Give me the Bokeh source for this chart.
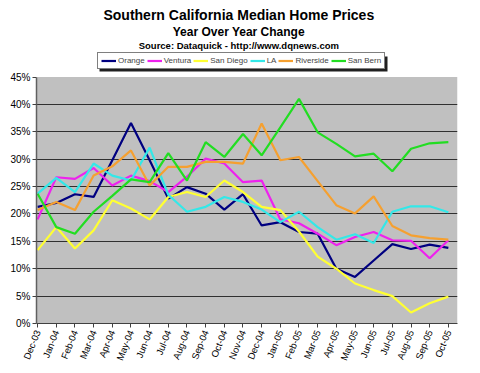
import math
from bokeh.plotting import figure
from bokeh.models import (FixedTicker, PrintfTickFormatter, Label, Legend, LegendItem,
                          BoxAnnotation, Range1d)
from bokeh.embed import file_html
from bokeh.resources import INLINE

months = ["Dec-03", "Jan-04", "Feb-04", "Mar-04", "Apr-04", "May-04", "Jun-04", "Jul-04",
          "Aug-04", "Sep-04", "Oct-04", "Nov-04", "Dec-04", "Jan-05", "Feb-05", "Mar-05",
          "Apr-05", "May-05", "Jun-05", "Jul-05", "Aug-05", "Sep-05", "Oct-05"]

orange = [21.3, 22.0, 23.6, 23.1, 29.8, 36.6, 29.8, 22.8, 24.9, 23.7, 20.8, 23.6,
          17.9, 18.5, 16.7, 16.4, 10.0, 8.5, 11.5, 14.5, 13.6, 14.4, 13.8]
ventura = [19.0, 26.7, 26.4, 28.4, 25.2, 27.0, 26.0, 24.0, 26.8, 30.1, 29.2, 25.8,
           26.1, 19.0, 18.3, 16.4, 14.3, 15.8, 16.7, 15.2, 15.1, 11.9, 15.2]
san_diego = [13.4, 17.6, 13.7, 17.0, 22.5, 21.0, 19.0, 23.1, 24.0, 23.1, 26.1, 24.0,
             21.3, 20.7, 16.8, 12.2, 10.0, 7.3, 6.1, 5.0, 2.0, 3.7, 4.9]
la = [23.7, 26.6, 24.0, 29.2, 27.0, 26.1, 32.1, 23.5, 20.4, 21.3, 23.1, 22.2,
      20.8, 18.5, 20.4, 17.6, 15.3, 16.3, 14.7, 20.4, 21.4, 21.4, 20.3]
riverside = [20.7, 22.2, 20.7, 27.0, 28.7, 31.6, 25.2, 28.6, 28.6, 29.5, 29.5, 29.2,
             36.5, 29.8, 30.4, 26.0, 21.6, 20.1, 23.2, 17.8, 16.1, 15.6, 15.3]
san_bern = [23.7, 17.6, 16.4, 20.4, 23.3, 26.3, 25.8, 31.1, 26.1, 33.1, 30.4, 34.6,
            30.7, 35.8, 41.0, 34.9, 32.8, 30.5, 31.0, 27.8, 31.9, 32.9, 33.1]

series_names = ["Orange", "Ventura", "San Diego", "LA", "Riverside", "San Bern"]
series_values = [orange, ventura, san_diego, la, riverside, san_bern]
series_colors = ["#000080", "#EE22EE", "#FFFF33", "#33E8E8", "#F5A030", "#22DD22"]

y_ticks = [0, 5, 10, 15, 20, 25, 30, 35, 40, 45]
Y_MAX = 45

FONT = "Liberation Sans"

W, H = 480, 373
BL, BR, BB = 36, 23, 50
frame_h = H - BB
plot_top_px = 76.5          # where the 45% line sits, from the top of the canvas
y_end = Y_MAX * frame_h / (frame_h - plot_top_px)

p = figure(width=W, height=H, output_backend="svg", toolbar_location=None,
           x_range=Range1d(-0.06, 22.49), y_range=Range1d(0, y_end),
           min_border_left=BL, min_border_right=BR, min_border_top=0, min_border_bottom=BB,
           background_fill_color="white", border_fill_color="white")
p.outline_line_color = None

# gray plot area (0% .. 45%)
p.add_layout(BoxAnnotation(bottom=0, top=Y_MAX, fill_color="#C0C0C0", fill_alpha=1.0,
                           line_color=None, level="image"))

xs = list(range(len(months)))
renderers = []
for name, vals, col in zip(series_names, series_values, series_colors):
    r = p.line(xs, vals, line_color=col, line_width=2.2)
    renderers.append((name, r))

# axes
p.xaxis.ticker = FixedTicker(ticks=xs)
p.xaxis.major_label_overrides = {i: m for i, m in enumerate(months)}
p.xaxis.major_label_orientation = 1.19
p.xaxis.major_label_text_font = FONT
p.xaxis.major_label_text_font_size = "9.5px"
p.xaxis.major_label_text_color = "black"
p.xaxis.major_tick_out = 4
p.xaxis.major_tick_in = 0
p.xaxis.minor_tick_line_color = None
p.xaxis.axis_line_color = "#404040"
p.xaxis.major_tick_line_color = "#404040"
p.xaxis.major_label_standoff = 3

p.yaxis.ticker = FixedTicker(ticks=y_ticks)
p.yaxis.bounds = (0, Y_MAX)
p.yaxis.formatter = PrintfTickFormatter(format="%d%%")
p.yaxis.major_label_text_font = FONT
p.yaxis.major_label_text_font_size = "10px"
p.yaxis.major_label_text_color = "black"
p.yaxis.major_tick_out = 4
p.yaxis.major_tick_in = 0
p.yaxis.minor_tick_line_color = None
p.yaxis.axis_line_color = "#606060"
p.yaxis.axis_line_width = 1.5
p.yaxis.major_tick_line_color = "#404040"
p.yaxis.major_label_standoff = 2

p.xgrid.grid_line_color = None
p.ygrid.ticker = FixedTicker(ticks=y_ticks[1:-1])
p.ygrid.grid_line_color = "#303030"
p.ygrid.grid_line_width = 1

# titles (screen units relative to frame bottom-left)
titles = [("Southern California Median Home Prices", "14px", 308.5),
          ("Year Over Year Change", "12px", 291.5),
          ("Source: Dataquick - http://www.dqnews.com", "9.5px", 278.5)]
for txt, size, yy in titles:
    p.add_layout(Label(x=202.3, y=yy, x_units="screen", y_units="screen", text=txt,
                       text_font=FONT, text_font_size=size, text_font_style="bold",
                       text_align="center", text_baseline="alphabetic", text_color="black"))

# legend shadow
p.add_layout(BoxAnnotation(left=63, right=351, bottom=252, top=267,
                           left_units="screen", right_units="screen",
                           bottom_units="screen", top_units="screen",
                           fill_color="#202020", fill_alpha=1.0, line_color=None))

legend = Legend(items=[LegendItem(label=n, renderers=[r]) for n, r in renderers],
                orientation="horizontal", location=(61, 254),
                label_text_font=FONT, label_text_font_size="8px",
                label_height=9, glyph_height=9, glyph_width=15, label_width=0,
                label_standoff=2, spacing=2, padding=3, margin=0,
                border_line_color="black", border_line_width=1,
                background_fill_color="white", background_fill_alpha=1.0)
p.add_layout(legend)

open("out.html", "w").write(file_html(p, INLINE))
